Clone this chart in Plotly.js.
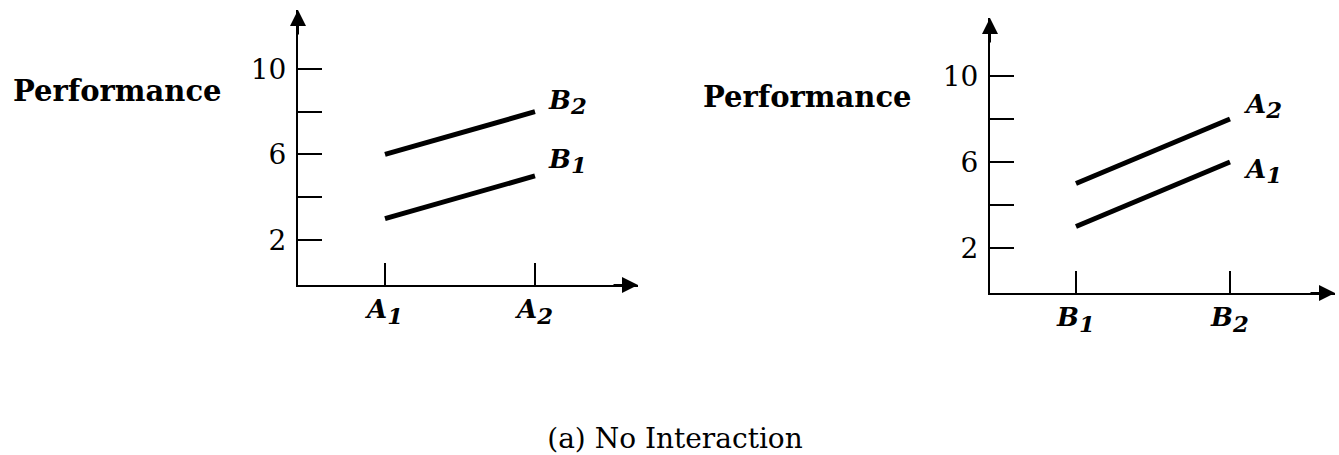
<!DOCTYPE html>
<html>
<head>
<meta charset="utf-8">
<script src="https://cdn.plot.ly/plotly-3.0.1.min.js"></script>
<style>html,body{margin:0;padding:0;background:#fff;}#chart{width:1339px;height:455px;}</style>
</head>
<body>
<div id="chart"></div>
<script>
// ---- data ----
const levels = [1, 2];
const levelNames = ['1', '2'];
const leftFactor = 'A';    // x-axis factor in left panel
const rightFactor = 'B';   // x-axis factor in right panel
const yTickVals = [2, 6, 10];
const yTickText = ['2', '6', '10'];
const yMinorTickVals = [4, 8];
const leftB1 = [3, 5];
const leftB2 = [6, 8];
const rightA1 = [3, 6];
const rightA2 = [5, 8];
const yLabel = 'Performance';
const titleText = '(a) No Interaction';

// ---- helpers ----
const FONT = 'DejaVu Serif';
const sym = (f, l) => '<b><i>' + f + '</i></b><sub><span style="font-size:125%"><b><i>' + l + '</i></b></span></sub>';
const lineStyle = {color: '#000', width: 5};

const traces = [
  {x: levels, y: leftB1, xaxis: 'x', yaxis: 'y', mode: 'lines', line: lineStyle, name: 'B1'},
  {x: levels, y: leftB2, xaxis: 'x', yaxis: 'y', mode: 'lines', line: lineStyle, name: 'B2'},
  {x: levels, y: rightA1, xaxis: 'x2', yaxis: 'y2', mode: 'lines', line: lineStyle, name: 'A1'},
  {x: levels, y: rightA2, xaxis: 'x2', yaxis: 'y2', mode: 'lines', line: lineStyle, name: 'A2'}
];

function xAxis(domain, range, factor, anchor) {
  return {
    domain: domain, range: range, anchor: anchor,
    showline: true, linecolor: '#000', linewidth: 2,
    showgrid: false, zeroline: false,
    ticks: 'inside', ticklen: 22, tickwidth: 2, tickcolor: '#000',
    tickmode: 'array', tickvals: levels,
    ticktext: levelNames.map(l => sym(factor, l)),
    tickfont: {family: FONT, size: 26, color: '#000'},
    ticklabelstandoff: 0,
    fixedrange: true
  };
}
function yAxis(domain, range, anchor) {
  return {
    domain: domain, range: range, anchor: anchor,
    showline: true, linecolor: '#000', linewidth: 2,
    showgrid: false, zeroline: false,
    ticks: 'inside', ticklen: 24, tickwidth: 2, tickcolor: '#000',
    tickmode: 'array', tickvals: yTickVals, ticktext: yTickText,
    minor: {tickmode: 'array', tickvals: yMinorTickVals, ticks: 'inside', ticklen: 24, tickwidth: 2, tickcolor: '#000', showgrid: false},
    tickfont: {family: FONT, size: 28, color: '#000'},
    ticklabelstandoff: 4,
    fixedrange: true
  };
}

function arrow(xref, yref, x, y, ax, ay) {
  return {xref: xref, yref: yref, x: x, y: y, ax: ax, ay: ay, text: '',
    showarrow: true, arrowhead: 2, arrowsize: 1.6, arrowwidth: 2, arrowcolor: '#000'};
}
function lineLabel(xref, yref, x, y, text, yshift) {
  return {xref: xref, yref: yref, x: x, y: y, text: text, showarrow: false,
    xanchor: 'left', yanchor: 'middle', xshift: 11, yshift: yshift,
    font: {family: FONT, size: 26, color: '#000'}};
}

const annotations = [
  arrow('x domain', 'y domain', 1, 0, -26, 0),
  arrow('x domain', 'y domain', 0, 1, 0, 26),
  arrow('x2 domain', 'y2 domain', 1, 0, -26, 0),
  arrow('x2 domain', 'y2 domain', 0, 1, 0, 26),
  lineLabel('x', 'y', 2, leftB2[1], sym(rightFactor, levelNames[1]), 10),
  lineLabel('x', 'y', 2, leftB1[1], sym(rightFactor, levelNames[0]), 15),
  lineLabel('x2', 'y2', 2, rightA2[1], sym(leftFactor, levelNames[1]), 13),
  lineLabel('x2', 'y2', 2, rightA1[1], sym(leftFactor, levelNames[0]), -9),
  {xref: 'paper', yref: 'paper', x: 117 / 1339, y: 1 - 91 / 455, text: '<b>' + yLabel + '</b>',
   showarrow: false, xanchor: 'center', yanchor: 'middle', font: {family: FONT, size: 29, color: '#000'}},
  {xref: 'paper', yref: 'paper', x: 807 / 1339, y: 1 - 97 / 455, text: '<b>' + yLabel + '</b>',
   showarrow: false, xanchor: 'center', yanchor: 'middle', font: {family: FONT, size: 29, color: '#000'}}
];

const layout = {
  width: 1339, height: 455,
  margin: {l: 0, r: 0, t: 0, b: 0},
  paper_bgcolor: '#fff', plot_bgcolor: '#fff',
  showlegend: false,
  title: {text: titleText, x: 675 / 1339, xanchor: 'center', y: 1 - 438 / 455, yanchor: 'middle',
          yref: 'container', font: {family: FONT, size: 28, color: '#000'}},
  xaxis: xAxis([298 / 1339, 638 / 1339], [0.42, 2.687], leftFactor, 'y'),
  yaxis: yAxis([(455 - 285) / 455, (455 - 10) / 455], [-0.1, 12.75], 'x'),
  xaxis2: xAxis([990 / 1339, 1335 / 1339], [0.4416, 2.682], rightFactor, 'y2'),
  yaxis2: yAxis([(455 - 293) / 455, (455 - 18) / 455], [-0.09, 12.7], 'x2'),
  annotations: annotations
};

Plotly.newPlot('chart', traces, layout, {displayModeBar: false, staticPlot: true});
</script>
</body>
</html>
